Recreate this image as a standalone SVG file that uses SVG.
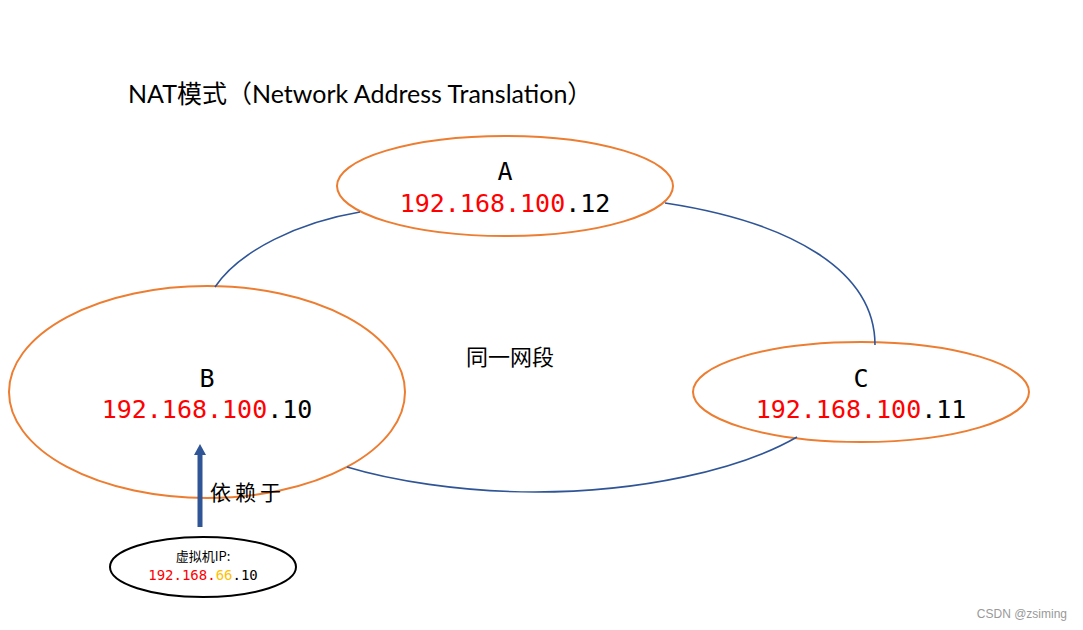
<svg xmlns="http://www.w3.org/2000/svg" width="1083" height="630" viewBox="0 0 1083 630">
<style>
.n{fill:#fff;stroke:#ED7D31;stroke-width:2}
.c{fill:none;stroke:#2F5597;stroke-width:1.6}
.m{font-family:"DejaVu Sans Mono",monospace;font-size:25px;text-anchor:middle}
.r{fill:#FF0000}
.k{font-family:"Noto Sans CJK SC",sans-serif}
</style>
<rect width="1083" height="630" fill="#fff"/>
<text x="128" y="103" font-family="Lato,'Noto Sans CJK SC',sans-serif" font-size="25">NAT模式（Network Address Translation）</text>
<g id="A"><ellipse class="n" cx="505" cy="186" rx="168" ry="50"/>
<text class="m" x="505" y="180">A</text><text class="m" x="505" y="212"><tspan class="r">192.168.100</tspan>.12</text></g>
<g id="B"><ellipse class="n" cx="207" cy="392" rx="198" ry="106"/>
<text class="m" x="207" y="387">B</text><text class="m" x="207" y="418"><tspan class="r">192.168.100</tspan>.10</text></g>
<g id="C"><ellipse class="n" cx="861" cy="392" rx="168" ry="50"/>
<text class="m" x="861" y="387">C</text><text class="m" x="861" y="418"><tspan class="r">192.168.100</tspan>.11</text></g>
<g id="vm"><ellipse cx="203" cy="567" rx="93" ry="30" fill="#fff" stroke="#000" stroke-width="2"/>
<text x="203" y="561" text-anchor="middle" class="k" font-size="13">虚拟机IP:</text>
<text x="203" y="580" text-anchor="middle" font-family="DejaVu Sans Mono,monospace" font-size="14"><tspan class="r">192.168.</tspan><tspan fill="#FFC000">66</tspan>.10</text></g>
<g id="connectors">
<path class="c" d="M215,287 C240,250 300,222 360,212"/>
<path class="c" d="M665,203 C790,222 875,270 875,345"/>
<path class="c" d="M797,437 C740,470 640,492 535,492 C460,492 390,480 347,467"/>
<line x1="200" y1="527" x2="200" y2="454" stroke="#2F5597" stroke-width="5"/>
<polygon points="194,455 206,455 200,444" fill="#2F5597"/>
</g>
<text x="210" y="500" class="k" font-size="21" letter-spacing="4">依赖于</text>
<text x="466" y="365" class="k" font-size="22">同一网段</text>
<text x="1067" y="618" text-anchor="end" font-family="Liberation Sans,sans-serif" font-size="12" fill="#999">CSDN @zsiming</text>
</svg>
